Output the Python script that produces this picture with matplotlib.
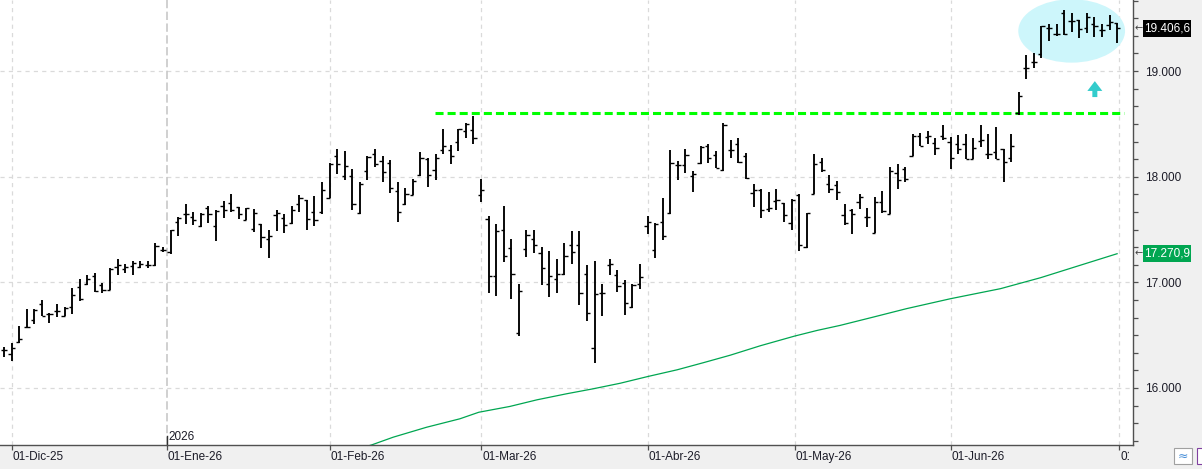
import matplotlib
matplotlib.use('Agg')
import matplotlib.pyplot as plt
import numpy as np
from matplotlib.patches import Ellipse, Polygon, Rectangle
from matplotlib.ticker import MultipleLocator, FixedLocator, NullFormatter, FuncFormatter
from matplotlib.transforms import Bbox, TransformedBbox, blended_transform_factory

plt.rcParams['font.family'] = ['Liberation Sans', 'DejaVu Sans']
plt.rcParams['lines.scale_dashes'] = False

# ---------------- data ----------------
opens = [16361, 16317, 16434, 16576, 16639, 16791, 16696, 16728, 16684, 16766,
         16955, 16987, 17056, 16971, 16930, 17145, 17129, 17151, 17145, 17161,
         17161, 17309, 17287, 17572, 17644, 17619, 17530, 17707, 17530, 17720,
         17752, 17714, 17594, 17508, 17549, 17414, 17641, 17613, 17562, 17739,
         17777, 17666, 17666, 17802, 18194, 18004, 18004, 17657, 18052, 18213,
         18150, 18131, 17865, 17739, 17831, 18014, 18163, 18068, 18257, 18257,
         18324, 18431, 18441, 17831, 17597, 17057, 17493, 17328, 16523, 17319,
         17414, 17281, 16987, 17034, 17082, 17357, 17357, 17075, 16380, 16902,
         17161, 17066, 16996, 16766, 16987, 17530, 17303, 17572, 17657, 18109,
         18109, 18004, 18134, 18289, 18204, 18068, 18257, 18314, 18194, 17846,
         17878, 17698, 17767, 17752, 17565, 17824, 17335, 17840, 18140, 17929,
         17919, 17641, 17682, 17761, 17619, 17467, 17761, 17651, 18036, 18077,
         18194, 18384, 18377, 18320, 18384, 18324, 18314, 18314, 18172, 18339,
         18213, 18235, 18267, 18181, 18600, 19031, 19088, 19158, 19404, 19351,
         19553, 19477, 19483, 19404, 19445, 19389, 19436, 19458]
highs = [16387, 16424, 16583, 16750, 16750, 16835, 16712, 16791, 16766, 16949,
         17034, 17066, 17088, 16993, 17139, 17218, 17177, 17199, 17202, 17199,
         17373, 17335, 17499, 17619, 17739, 17666, 17660, 17720, 17682, 17771,
         17834, 17714, 17708, 17698, 17549, 17493, 17688, 17644, 17720, 17831,
         17783, 17815, 17951, 18131, 18267, 18245, 18077, 17951, 18194, 18267,
         18194, 18156, 17951, 17897, 17982, 18235, 18181, 18213, 18447, 18298,
         18456, 18504, 18573, 17982, 17625, 17556, 17720, 17414, 16981, 17499,
         17493, 17335, 17293, 17218, 17376, 17483, 17483, 17161, 17199, 16981,
         17224, 17113, 17019, 16981, 17177, 17625, 17562, 17802, 18251, 18147,
         18260, 18052, 18289, 18308, 18245, 18504, 18346, 18371, 18226, 17929,
         17881, 17856, 17888, 17752, 17793, 17834, 17660, 18219, 18181, 18014,
         17957, 17745, 17692, 17840, 17708, 17809, 17865, 18093, 18125, 18093,
         18409, 18415, 18434, 18371, 18488, 18377, 18393, 18409, 18362, 18494,
         18409, 18466, 18267, 18403, 18804, 19152, 19167, 19427, 19445, 19445,
         19578, 19547, 19483, 19547, 19515, 19445, 19531, 19458]
lows = [16292, 16254, 16424, 16570, 16601, 16677, 16614, 16671, 16677, 16696,
        16823, 16971, 16908, 16898, 16924, 17066, 17088, 17072, 17139, 17139,
        17154, 17287, 17271, 17436, 17556, 17540, 17524, 17562, 17391, 17613,
        17666, 17603, 17587, 17477, 17325, 17233, 17486, 17467, 17549, 17666,
        17499, 17531, 17651, 17802, 18024, 17967, 17682, 17651, 17973, 18093,
        17951, 17847, 17572, 17730, 17824, 18004, 17903, 17973, 18219, 18118,
        18245, 18371, 18308, 17761, 16899, 16870, 17192, 16839, 16491, 17240,
        17278, 16978, 16861, 16899, 17072, 17170, 16788, 16633, 16235, 16681,
        17072, 16908, 16693, 16756, 16940, 17461, 17233, 17398, 17644, 17973,
        18036, 17856, 18118, 18131, 18087, 18055, 18181, 18131, 17982, 17714,
        17613, 17666, 17689, 17572, 17499, 17297, 17328, 17834, 18046, 17846,
        17777, 17540, 17461, 17698, 17524, 17467, 17657, 17644, 17888, 17951,
        18194, 18289, 18314, 18210, 18346, 18077, 18213, 18172, 18172, 18283,
        18172, 18172, 17951, 18140, 18583, 18924, 19031, 19120, 19287, 19332,
        19341, 19373, 19310, 19357, 19325, 19325, 19389, 19269]
closes = [16361, 16377, 16466, 16576, 16740, 16684, 16703, 16728, 16759, 16876,
          16845, 17034, 16917, 16930, 17129, 17161, 17145, 17183, 17170, 17161,
          17344, 17309, 17493, 17613, 17644, 17594, 17644, 17644, 17676, 17682,
          17688, 17644, 17708, 17657, 17429, 17436, 17657, 17540, 17682, 17802,
          17603, 17587, 17878, 18125, 18118, 18099, 17745, 17935, 18188, 18118,
          18046, 17897, 17666, 17840, 17960, 18181, 18014, 18181, 18289, 18194,
          18447, 18497, 18362, 17878, 17057, 17483, 17246, 17075, 16917, 17445,
          17350, 17139, 17057, 17082, 17246, 17287, 16902, 16712, 16886, 16902,
          17170, 16962, 16804, 16971, 17050, 17571, 17556, 17439, 18131, 18109,
          18204, 18030, 18283, 18181, 18087, 18488, 18257, 18140, 17992, 17878,
          17689, 17708, 17783, 17641, 17783, 17350, 17660, 18125, 18061, 17888,
          17856, 17562, 17651, 17809, 17619, 17761, 17676, 18052, 17973, 17982,
          18384, 18289, 18384, 18276, 18362, 18181, 18267, 18172, 18276, 18346,
          18219, 18172, 18140, 18289, 18763, 19031, 19088, 19427, 19404, 19351,
          19351, 19477, 19395, 19509, 19427, 19389, 19468, 19407]

# moving average (read at sampled bar positions)
ma_idx = [46.0, 48.6, 51.4, 55.8, 60.2, 62.7, 66.8, 70.4, 74.3, 77.8, 81.4,
          85.0, 88.9, 92.4, 95.9, 99.9, 104.4, 107.4, 110.4, 114.8, 119.2,
          125.0, 131.6, 136.9, 142.1, 147.0]
ma_val = [15405, 15462, 15534, 15628, 15708, 15770, 15825, 15888, 15945, 15992,
          16045, 16108, 16172, 16240, 16310, 16400, 16491, 16545, 16592, 16671,
          16751, 16845, 16940, 17044, 17161, 17271]

month_pos = [1, 21.5, 43, 63, 85, 104.4, 125, 147.3]
month_labels = ['01-Dic-25', '01-Ene-26', '01-Feb-26', '01-Mar-26', '01-Abr-26',
                '01-May-26', '01-Jun-26', '01-Jul-26']
y_major = [16000, 17000, 18000, 19000]
resistance = 18600
last_close_label = '19.406,6'
ma_last_label = '17.270,9'
ma_last = 17271
last_close = 19407

# ---------------- figure ----------------
W, H = 1202, 469
fig = plt.figure(figsize=(W / 100, H / 100), dpi=100, facecolor='#f0f0f0')
ax = fig.add_axes([0, 24 / H, 1133 / W, 445 / H])
ax.set_facecolor('white')
ax.set_xlim(-0.53, 149.1)
ax.set_ylim(15460, 19673)

# grid
for yv in y_major:
    ax.axhline(yv, color='#dadada', lw=0.9, dashes=(3, 3), zorder=0)
for i, xv in enumerate(month_pos):
    if i == 1:
        ax.axvline(xv, color='#c4c4c4', lw=1.1, dashes=(6, 2.5), zorder=0)
    else:
        ax.axvline(xv, color='#dadada', lw=0.9, dashes=(3, 3), zorder=0)

# highlight ellipse
ax.add_patch(Ellipse((141.0, 19380), 14.1, 600, facecolor='#cdf6fb',
                     edgecolor='none', zorder=1))

# OHLC bars
x = np.arange(len(opens))
tick = 0.42
ax.vlines(x, lows, highs, colors='black', lw=1.35, zorder=3)
ax.hlines(opens, x - tick, x, colors='black', lw=1.0, zorder=3)
ax.hlines(closes, x, x + tick, colors='black', lw=1.0, zorder=3)

# moving average
ax.plot(ma_idx, ma_val, color='#00a651', lw=0.9, zorder=2)

# resistance dashed line
ax.plot([56.9, 147.95], [resistance, resistance], color='#00ff00', lw=2.2,
        dashes=(5.8, 2.9), solid_capstyle='butt', zorder=2)

# up arrow
ax.add_patch(Polygon([(144.06, 18905), (143.07, 18812), (143.73, 18812),
                      (143.73, 18754), (144.39, 18754), (144.39, 18812),
                      (145.05, 18812)], closed=True, facecolor='#33cccc',
                     edgecolor='none', zorder=2))

# spines
for s in ['top', 'left']:
    ax.spines[s].set_visible(False)
for s in ['bottom', 'right']:
    ax.spines[s].set_color('#505050')
    ax.spines[s].set_linewidth(1.0)

# y axis on the right
ax.yaxis.tick_right()
ax.yaxis.set_major_locator(FixedLocator(y_major))
ax.yaxis.set_minor_locator(MultipleLocator(1000 / 6))
ax.yaxis.set_major_formatter(FuncFormatter(lambda v, p: f'{int(v):,}'.replace(',', '.')))
ax.yaxis.set_minor_formatter(NullFormatter())
ax.tick_params(axis='y', which='both', direction='out', length=3.6, width=0.9,
               color='#505050', pad=5, labelsize=8.5, labelcolor='#1c1c28')

# x axis ticks
ax.set_xticks(month_pos)
ax.set_xticklabels([''] * len(month_pos))
ax.tick_params(axis='x', which='both', direction='out', length=3.6, width=0.9,
               color='#505050')
trans = blended_transform_factory(ax.transData, ax.transAxes)
clip = TransformedBbox(Bbox([[0, 0], [1129 / W, 1]]), fig.transFigure)
for xv, lab in zip(month_pos, month_labels):
    t = ax.text(xv + 0.15, -0.026, lab, transform=trans, ha='left', va='center',
                fontsize=8.5, color='#1c1c28', clip_on=True)
    t.set_clip_box(clip)

# year marker
ax.text(21.75, 0.019, '2026', transform=trans, ha='left', va='center',
        fontsize=8.5, color='#1c1c28')
ax.plot([21.5, 21.5], [0, 0.02], transform=trans, color='#303030', lw=1.0,
        clip_on=False)

# price labels on the right
def price_box(yc, text, color):
    fig.add_artist(Rectangle((1143 / W, 1 - (yc + 8.5) / H), 48 / W, 17 / H,
                             transform=fig.transFigure, facecolor=color,
                             edgecolor='none'))
    fig.text(1167 / W, 1 - yc / H, text, ha='center', va='center',
             fontsize=8.5, color='white')
    fig.text(1138.5 / W, 1 - yc / H, '←', ha='center', va='center',
             fontsize=7, color='#404040', family='DejaVu Sans')

def val_to_px(v):
    return (19673 - v) / 4213 * 445

price_box(val_to_px(last_close) + 0.5, last_close_label, 'black')
price_box(val_to_px(ma_last) - 0.5, ma_last_label, '#00a651')

# bottom-right icons
fig.add_artist(Rectangle((1174 / W, 1 - 464 / H), 18 / W, 16 / H,
                         transform=fig.transFigure, facecolor='white',
                         edgecolor='#a0a0a0', lw=0.8))
fig.add_artist(Rectangle((1197 / W, 1 - 464 / H), 6 / W, 16 / H,
                         transform=fig.transFigure, facecolor='white',
                         edgecolor='#8040a0', lw=0.8))
fig.text(1183 / W, 1 - 456 / H, '≈', ha='center', va='center', fontsize=9,
         color='#4a90d9', family='DejaVu Sans')

fig.savefig('out.png', dpi=100, facecolor=fig.get_facecolor())
